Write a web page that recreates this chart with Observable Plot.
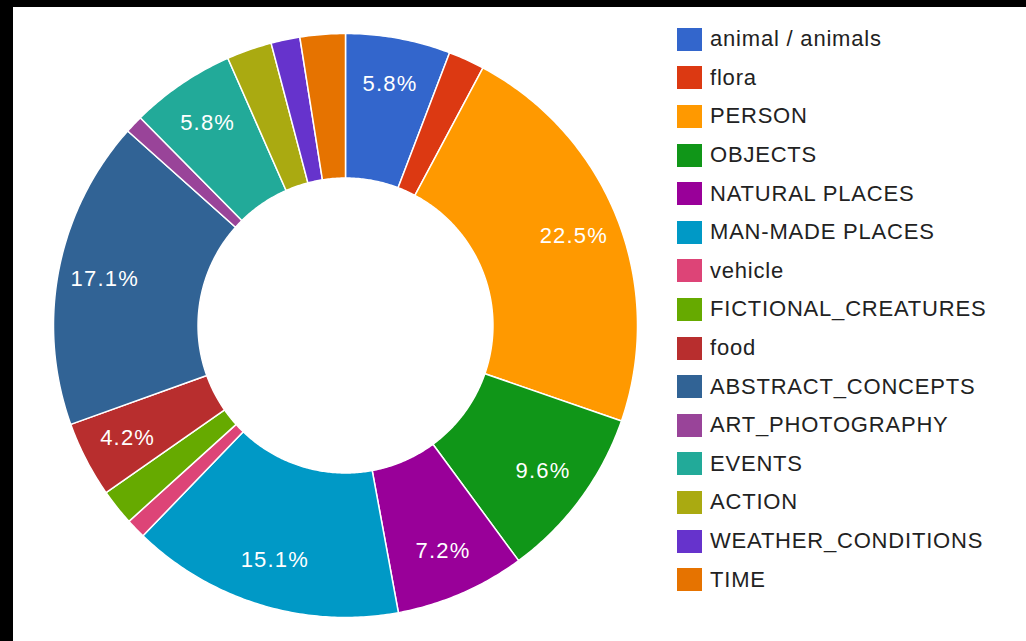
<!DOCTYPE html>
<html>
<head>
<meta charset="utf-8">
<script src="https://cdn.jsdelivr.net/npm/d3@7"></script>
<script src="https://cdn.jsdelivr.net/npm/@observablehq/plot@0.6"></script>
<style>
html, body { margin: 0; padding: 0; background: #fff; }
#wrap { position: relative; width: 1013px; height: 634px; border-top: 7px solid #000; border-left: 13px solid #000; background: #fff; overflow: hidden; }
#chart { position: absolute; left: 0; top: 0; }
#chart svg text { letter-spacing: 1.2px; }
#legend { position: absolute; left: 664px; top: 13px; font-family: "Liberation Sans", Arial, sans-serif; font-size: 22px; letter-spacing: 0.8px; color: #222; }
.item { display: flex; align-items: center; height: 38.6px; white-space: nowrap; }
.sw { width: 25px; height: 23px; margin-right: 8px; flex: none; }
</style>
</head>
<body>
<div id="wrap"><div id="chart"></div><div id="legend"></div></div>
<script>
const categories = ["animal / animals", "flora", "PERSON", "OBJECTS", "NATURAL PLACES", "MAN-MADE PLACES", "vehicle", "FICTIONAL_CREATURES", "food", "ABSTRACT_CONCEPTS", "ART_PHOTOGRAPHY", "EVENTS", "ACTION", "WEATHER_CONDITIONS", "TIME"];
const values = [5.8, 2.0, 22.5, 9.6, 7.2, 15.1, 1.1, 2.0, 4.2, 17.1, 1.0, 5.8, 2.5, 1.6, 2.5];
const colors = ["#3366cc", "#dc3912", "#ff9900", "#109618", "#990099", "#0099c6", "#dd4477", "#66aa00", "#b82e2e", "#316395", "#994499", "#22aa99", "#aaaa11", "#6633cc", "#e67300"];
const labelThreshold = 4; // slices below this percentage show no text

const holeRatio = 0.505;
const labelRatio = 0.84;

const slices = categories.map((name, i) => ({name, value: values[i]}));
const arcs = d3.pie().sort(null).value(d => d.value)(slices);

// polygon outline for each slice on the unit circle
const outline = [];
for (const a of arcs) {
  const steps = Math.max(8, Math.ceil((a.endAngle - a.startAngle) / 0.01));
  for (let k = 0; k <= steps; k++) {
    const t = a.startAngle + (a.endAngle - a.startAngle) * k / steps;
    outline.push({name: a.data.name, x: Math.sin(t), y: -Math.cos(t)});
  }
  for (let k = steps; k >= 0; k--) {
    const t = a.startAngle + (a.endAngle - a.startAngle) * k / steps;
    outline.push({name: a.data.name, x: holeRatio * Math.sin(t), y: -holeRatio * Math.cos(t)});
  }
}

const labels = arcs.filter(a => a.data.value >= labelThreshold).map(a => {
  const m = (a.startAngle + a.endAngle) / 2;
  return {text: a.data.value.toFixed(1) + "%", x: labelRatio * Math.sin(m), y: -labelRatio * Math.cos(m)};
});

const cx = 332, cy = 318, R = 292;

const chart = Plot.plot({
  width: 1013,
  height: 634,
  margin: 0,
  style: {fontFamily: "'Liberation Sans', Arial, sans-serif", background: "transparent"},
  x: {domain: [-1, 1], range: [cx - R, cx + R], axis: null},
  y: {domain: [-1, 1], range: [cy - R, cy + R], axis: null},
  color: {domain: categories, range: colors},
  marks: [
    Plot.line(outline, {x: "x", y: "y", z: "name", fill: "name", stroke: "white", strokeWidth: 1.5, curve: "linear-closed", strokeLinejoin: "round"}),
    Plot.text(labels, {x: "x", y: "y", text: "text", fill: "white", fontSize: 22, textAnchor: "middle", lineAnchor: "middle"})
  ]
});
document.getElementById("chart").appendChild(chart);

const legend = d3.select("#legend");
categories.forEach((c, i) => {
  const row = legend.append("div").attr("class", "item");
  row.append("div").attr("class", "sw").style("background", colors[i]);
  row.append("span").text(c);
});
</script>
</body>
</html>
